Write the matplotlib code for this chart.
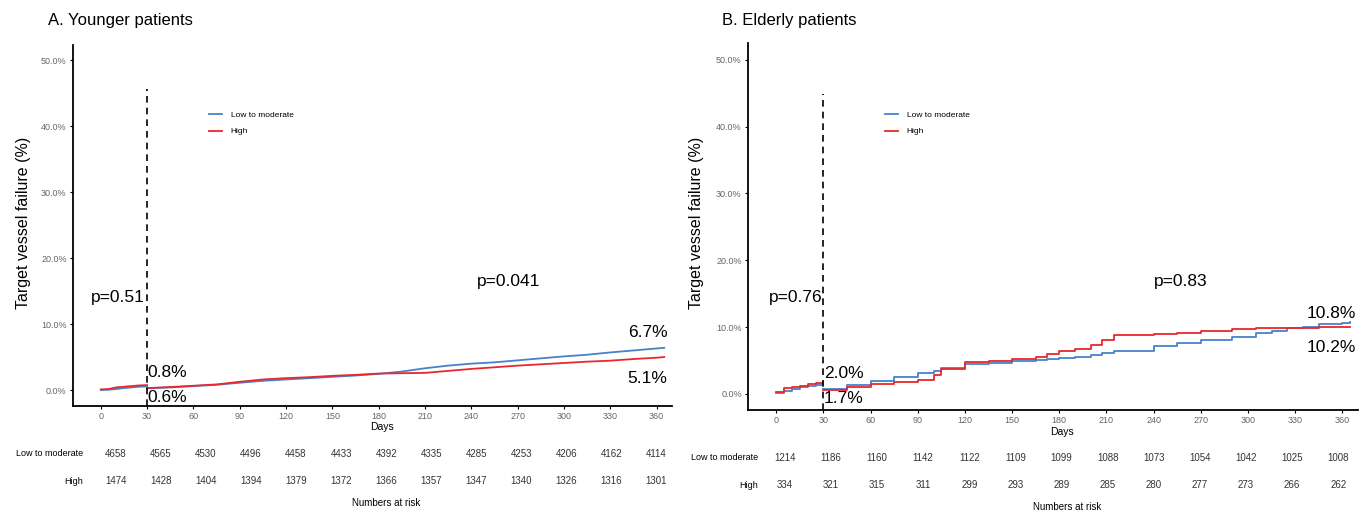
import numpy as np
import matplotlib.pyplot as plt
from matplotlib.transforms import blended_transform_factory
from matplotlib.lines import Line2D

plt.rcParams['font.family'] = ['Liberation Sans', 'DejaVu Sans']

# ---- data ----
group_names = ['Low to moderate', 'High']
risk_days = [0, 30, 60, 90, 120, 150, 180, 210, 240, 270, 300, 330, 360]

# A. Younger patients (landmark at 30 days)
a_days_early = [0, 5, 10, 15, 20, 25, 30]
a_low_early = [0.0, 0.05, 0.15, 0.3, 0.4, 0.5, 0.55]
a_high_early = [0.1, 0.15, 0.4, 0.5, 0.6, 0.7, 0.75]
a_days_late = [30, 45, 60, 75, 90, 105, 120, 135, 150, 165, 180, 195,
               210, 225, 240, 255, 270, 285, 300, 315, 330, 345, 360, 365]
a_low_late = [0.25, 0.4, 0.6, 0.8, 1.1, 1.4, 1.6, 1.8, 2.0, 2.2, 2.45, 2.8,
              3.3, 3.7, 4.0, 4.2, 4.5, 4.8, 5.1, 5.35, 5.7, 6.0, 6.3, 6.4]
a_high_late = [0.3, 0.45, 0.65, 0.85, 1.25, 1.6, 1.8, 1.95, 2.15, 2.3, 2.5, 2.55,
               2.6, 2.9, 3.2, 3.45, 3.7, 3.9, 4.1, 4.3, 4.45, 4.7, 4.9, 5.0]
a_risk_low = [4658, 4565, 4530, 4496, 4458, 4433, 4392, 4335, 4285, 4253, 4206, 4162, 4114]
a_risk_high = [1474, 1428, 1404, 1394, 1379, 1372, 1366, 1357, 1347, 1340, 1326, 1316, 1301]

# B. Elderly patients
b_days_early = [0, 5, 10, 15, 20, 25, 30]
b_low_early = [0.2, 0.5, 0.8, 1.0, 1.2, 1.4, 1.65]
b_high_early = [0.35, 0.85, 1.05, 1.25, 1.45, 1.65, 1.85]
b_days_late = [30, 45, 60, 75, 90, 100, 105, 120, 135, 150, 165, 172, 180, 190,
               200, 207, 215, 240, 255, 270, 290, 305, 315, 325, 335, 345, 360, 365]
b_low_late = [0.75, 1.3, 1.9, 2.6, 3.1, 3.5, 3.9, 4.5, 4.7, 4.9, 5.1, 5.2, 5.4, 5.6,
              5.9, 6.1, 6.5, 7.1, 7.6, 8.1, 8.5, 9.1, 9.4, 9.8, 10.0, 10.4, 10.6, 10.7]
b_high_late = [0.6, 1.1, 1.5, 1.85, 2.1, 2.9, 3.8, 4.8, 5.0, 5.2, 5.5, 6.0, 6.4, 6.7,
               7.3, 8.1, 8.8, 8.9, 9.1, 9.4, 9.7, 9.8, 9.9, 9.9, 9.9, 10.0, 10.0, 10.0]
b_risk_low = [1214, 1186, 1160, 1142, 1122, 1109, 1099, 1088, 1073, 1054, 1042, 1025, 1008]
b_risk_high = [334, 321, 315, 311, 299, 293, 289, 285, 280, 277, 273, 266, 262]

BLUE = '#4682C8'
RED = '#E8282C'

fig = plt.figure(figsize=(13.63, 5.14), dpi=100)


def draw_panel(pos, ylim, title, title_x, ylab_x, early, late, risk, steps,
               pvals, marks, dash_top, leg_xy, row_y, lab_x, tab_span, days_y, nar_y):
    ax = fig.add_axes(pos)
    ds = 'steps-post' if steps else 'default'
    days_e, low_e, high_e = early
    days_l, low_l, high_l = late
    ax.plot(days_e, low_e, color=BLUE, lw=1.3, drawstyle=ds)
    ax.plot(days_e, high_e, color=RED, lw=1.3, drawstyle=ds)
    ax.plot(days_l, low_l, color=BLUE, lw=1.3, drawstyle=ds)
    ax.plot(days_l, high_l, color=RED, lw=1.3, drawstyle=ds)
    ax.plot([30, 30], [ylim[0], dash_top], color='black', lw=1.2, ls=(0, (4, 3)))

    ax.set_xlim(-18, 370)
    ax.set_ylim(*ylim)
    ax.set_xticks(risk_days)
    ax.set_yticks(np.arange(0, 51, 10))
    ax.set_yticklabels(['%.1f%%' % v for v in np.arange(0, 51, 10)])
    ax.tick_params(labelsize=6.5, labelcolor='#666666', length=2.5, width=0.8, pad=2)
    for s in ['top', 'right']:
        ax.spines[s].set_visible(False)
    for s in ['left', 'bottom']:
        ax.spines[s].set_linewidth(1.3)

    # p values and percentages
    for txt, x, y in pvals:
        ax.text(x, y, txt, fontsize=12.5, ha='center', va='center')
    for txt, x, y, ha in marks:
        ax.text(x, y, txt, fontsize=12.5, ha=ha, va='center')

    handles = [Line2D([], [], color=BLUE, lw=1.3), Line2D([], [], color=RED, lw=1.3)]
    ax.legend(handles, group_names, loc='upper left', bbox_to_anchor=leg_xy,
              bbox_transform=fig.transFigure, frameon=False, fontsize=6,
              handlelength=1.6, handletextpad=1.0, labelspacing=1.05,
              borderpad=0, borderaxespad=0)

    fig.text(title_x, 1 - 20 / 514, title, fontsize=12, ha='left', va='center')
    fig.text(ylab_x, 1 - 223 / 514, 'Target vessel failure (%)',
             fontsize=11.5, rotation=90, ha='center', va='center')

    tr = blended_transform_factory(ax.transData, fig.transFigure)
    ax.text(182, days_y, 'Days', transform=tr, fontsize=7.5, ha='center', va='center')
    # the risk table columns are spaced a little tighter than the axis ticks
    t0, t1 = tab_span
    col_x = [t0 + d * (t1 - t0) / 360 for d in risk_days]
    for row, vals, y in zip(group_names, risk, row_y):
        fig.text(lab_x, y, row, fontsize=6.5, ha='right', va='center')
        for cx, v in zip(col_x, vals):
            ax.text(cx, y, str(v), transform=tr, fontsize=7, ha='center',
                    va='center', color='#333333')
    ax.text(185, nar_y, 'Numbers at risk', transform=tr, fontsize=7,
            ha='center', va='center')
    return ax


draw_panel([73 / 1363, 1 - 406 / 514, 599 / 1363, 361 / 514], (-2.42, 52.3),
           'A. Younger patients', 48 / 1363, 24 / 1363,
           (a_days_early, a_low_early, a_high_early),
           (a_days_late, a_low_late, a_high_late),
           (a_risk_low, a_risk_high), False,
           [('p=0.51', 11, 14.1), ('p=0.041', 264, 16.4)],
           [('0.8%', 30.5, 2.6, 'left'), ('0.6%', 30.5, -1.2, 'left'),
            ('6.7%', 367, 8.7, 'right'), ('5.1%', 367, 1.7, 'right')],
           45.6, (209 / 1363, 1 - 111 / 514),
           [1 - 454 / 514, 1 - 481 / 514], 83 / 1363, (9.7, 360.0),
           1 - 427 / 514, 1 - 503 / 514)

draw_panel([748 / 1363, 1 - 410 / 514, 610 / 1363, 367 / 514], (-2.4, 52.5),
           'B. Elderly patients', 722 / 1363, 697 / 1363,
           (b_days_early, b_low_early, b_high_early),
           (b_days_late, b_low_late, b_high_late),
           (b_risk_low, b_risk_high), True,
           [('p=0.76', 12.4, 14.5), ('p=0.83', 257, 16.8)],
           [('2.0%', 30.4, 3.0, 'left'), ('1.7%', 30.4, -0.75, 'left'),
            ('10.8%', 368.5, 12.0, 'right'), ('10.2%', 368.5, 7.0, 'right')],
           44.9, (885 / 1363, 1 - 111 / 514),
           [1 - 458 / 514, 1 - 485 / 514], 758 / 1363, (5.4, 357.4),
           1 - 432 / 514, 1 - 507 / 514)

fig.savefig('out.png', dpi=100)
